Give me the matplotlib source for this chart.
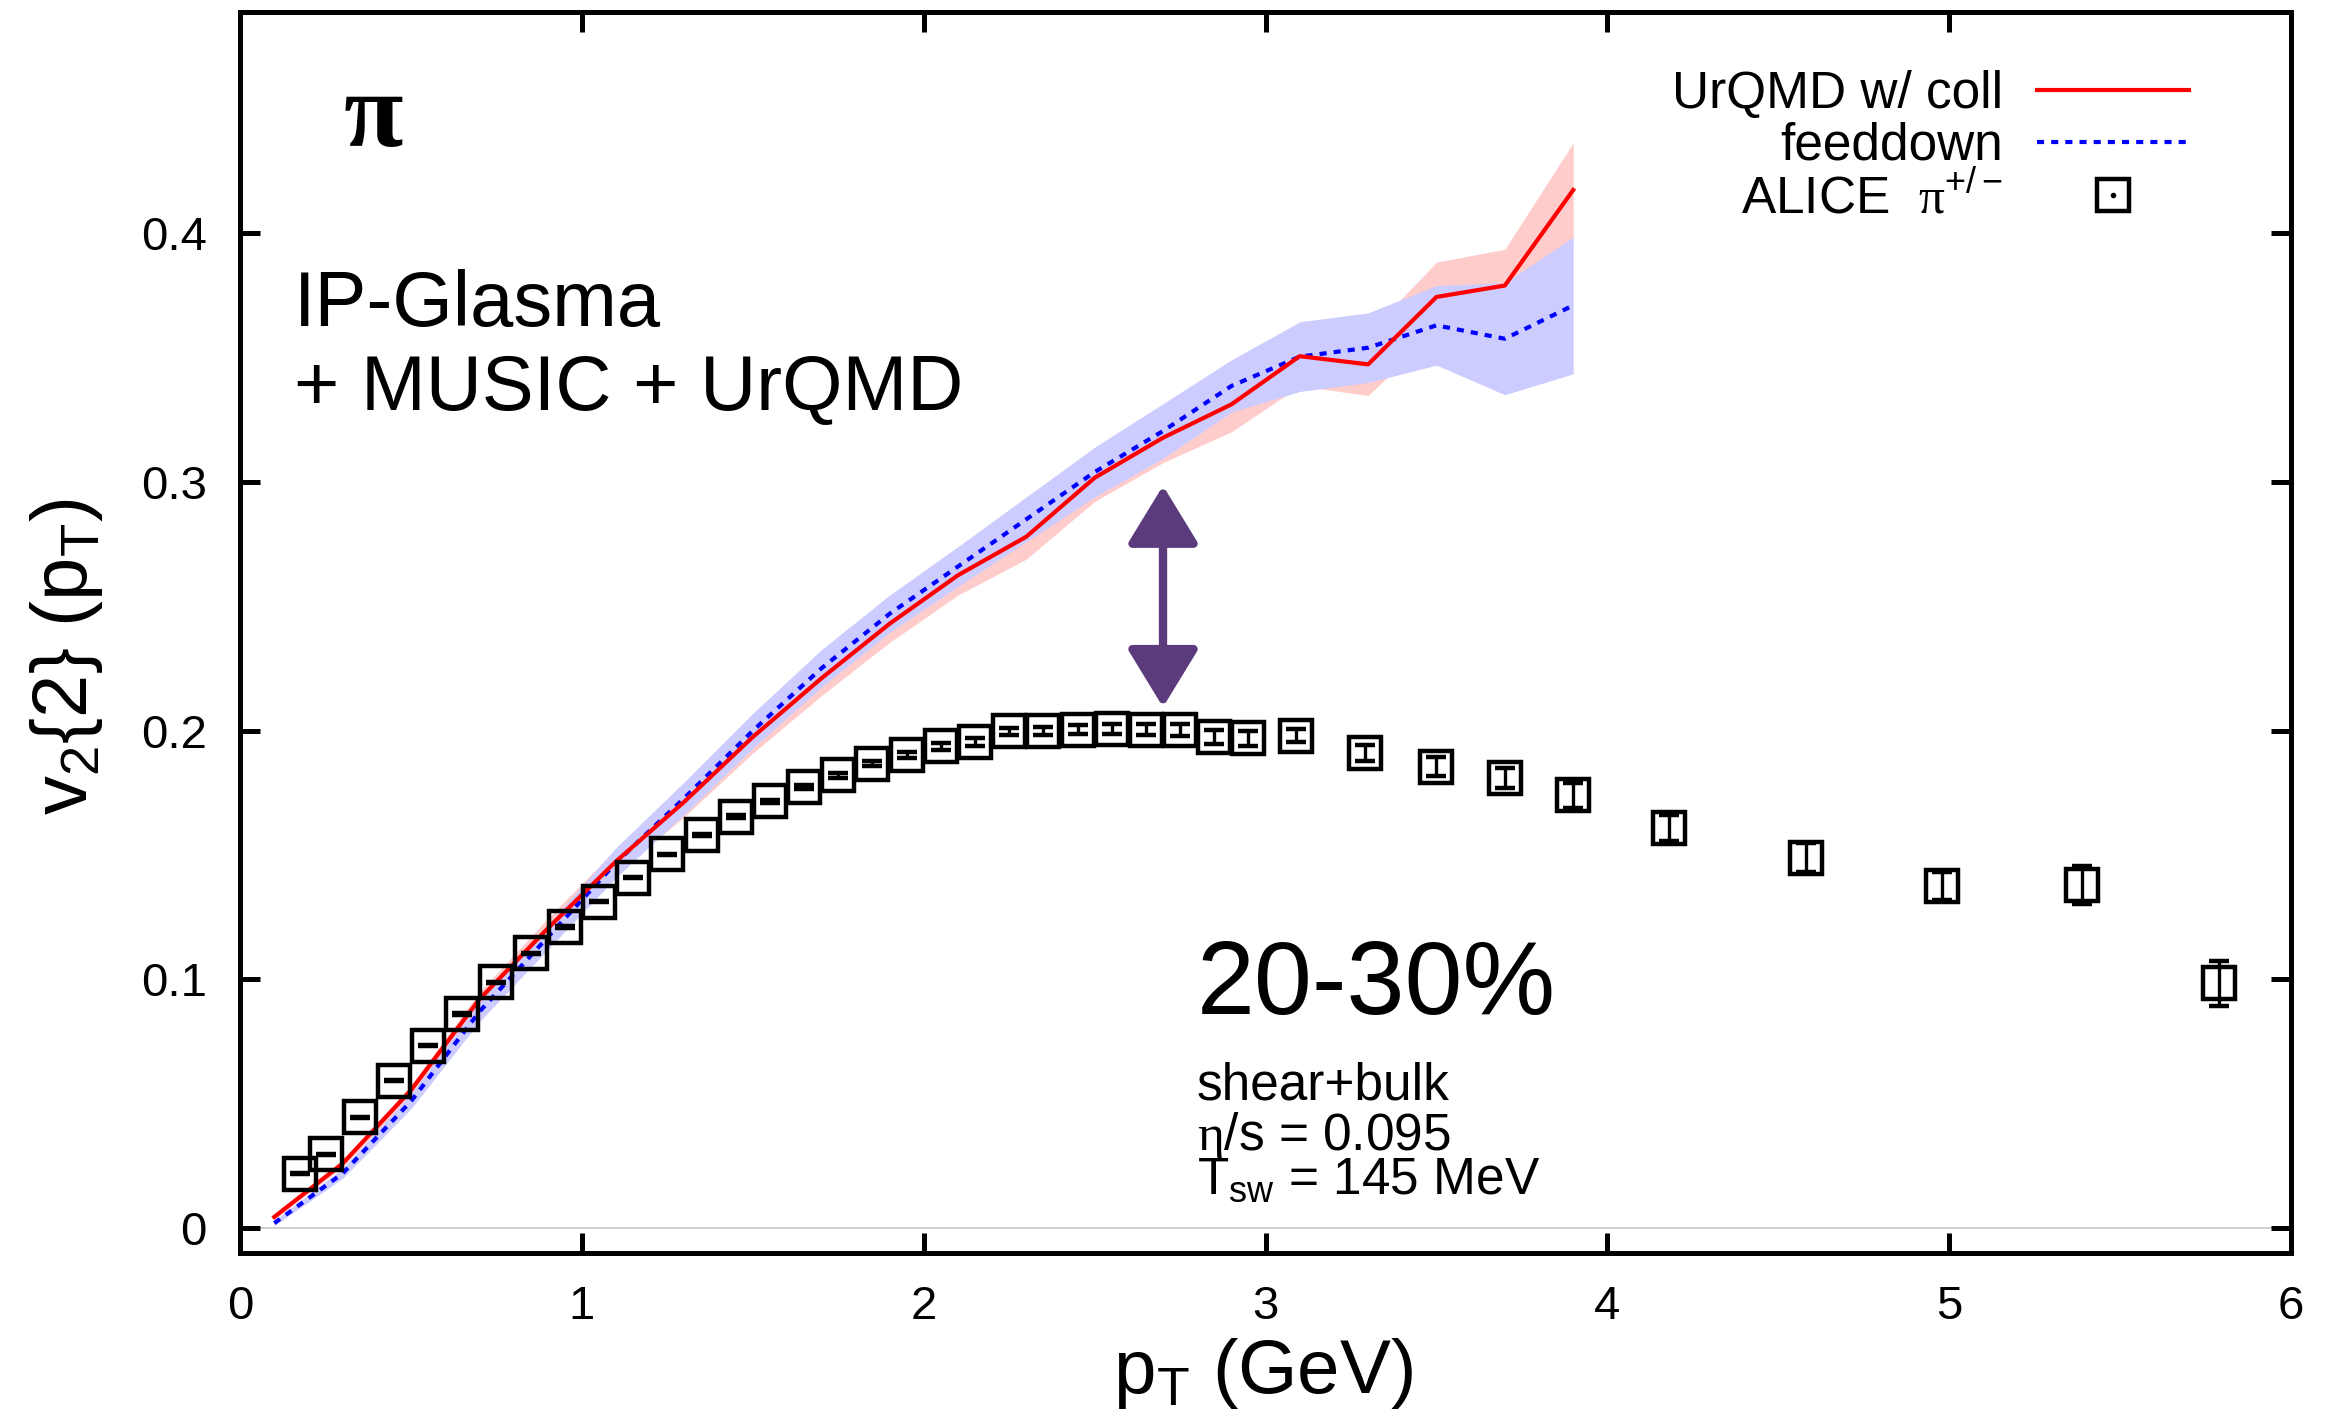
import matplotlib
matplotlib.use('Agg')
import numpy as np
import matplotlib.pyplot as plt
from matplotlib.lines import Line2D
from matplotlib.legend_handler import HandlerTuple
from matplotlib.ticker import FuncFormatter

plt.rcParams['font.family'] = ['Liberation Sans', 'DejaVu Sans']
plt.rcParams['mathtext.fontset'] = 'custom'
plt.rcParams['mathtext.rm'] = 'Liberation Sans'
plt.rcParams['mathtext.it'] = 'Liberation Sans:italic'
plt.rcParams['mathtext.cal'] = 'Liberation Serif'

# hydro + UrQMD curves, pT in GeV
pt_model = [0.1, 0.3, 0.5, 0.7, 0.9, 1.1, 1.3, 1.5, 1.7, 1.9,
            2.1, 2.3, 2.5, 2.7, 2.9, 3.1, 3.3, 3.5, 3.7, 3.9]
v2_coll = [0.0045, 0.026, 0.0555, 0.092, 0.1205, 0.1475, 0.1715, 0.1975, 0.221, 0.243,
           0.2625, 0.278, 0.3017, 0.3178, 0.3312, 0.3506, 0.3473, 0.3744, 0.379, 0.4174]
err_coll = [0.001, 0.0015, 0.002, 0.003, 0.004, 0.005, 0.006, 0.0065, 0.007, 0.0075,
            0.008, 0.009, 0.0095, 0.01, 0.011, 0.012, 0.0125, 0.014, 0.0146, 0.019]
v2_feed = [0.002, 0.022, 0.051, 0.087, 0.117, 0.147, 0.173, 0.2, 0.225, 0.247,
           0.266, 0.285, 0.304, 0.3205, 0.3386, 0.3504, 0.354, 0.363, 0.3576, 0.371]
err_feed = [0.001, 0.002, 0.003, 0.004, 0.005, 0.006, 0.0065, 0.007, 0.0075, 0.0075,
            0.008, 0.009, 0.01, 0.011, 0.0105, 0.014, 0.014, 0.016, 0.0225, 0.0275]

# ALICE pi+/- v2{2}, 20-30% centrality
pt_alice = [0.175, 0.25, 0.35, 0.45, 0.55, 0.65, 0.75, 0.85, 0.95, 1.05,
            1.15, 1.25, 1.35, 1.45, 1.55, 1.65, 1.75, 1.85, 1.95, 2.05,
            2.15, 2.25, 2.35, 2.45, 2.55, 2.65, 2.75, 2.85, 2.95, 3.09,
            3.29, 3.5, 3.7, 3.9, 4.18, 4.58, 4.98, 5.39, 5.79]
v2_alice = [0.0219, 0.0296, 0.0445, 0.0593, 0.0734, 0.0861, 0.0988, 0.1105, 0.1211, 0.1313,
            0.1409, 0.1503, 0.158, 0.1655, 0.1716, 0.1775, 0.182, 0.1867, 0.1903, 0.1937,
            0.1955, 0.1997, 0.1997, 0.2004, 0.2008, 0.2004, 0.2004, 0.1975, 0.197, 0.198,
            0.191, 0.1856, 0.181, 0.174, 0.161, 0.149, 0.1376, 0.138, 0.0985]
err_alice = [0.0003, 0.0003, 0.0003, 0.0003, 0.0003, 0.0003, 0.0003, 0.0003, 0.0003, 0.0003,
             0.0003, 0.0003, 0.0005, 0.0005, 0.0007, 0.0008, 0.001, 0.001, 0.0012, 0.0013,
             0.0015, 0.0015, 0.0016, 0.0018, 0.002, 0.0022, 0.0024, 0.0028, 0.003, 0.0025,
             0.0032, 0.0038, 0.0042, 0.005, 0.0052, 0.006, 0.0056, 0.0078, 0.009]

# gap between model and data at pT = 2.7 GeV
arrow_pt = 2.7
arrow_top = 0.2985
arrow_bottom = 0.2095

coll = np.array(v2_coll)
feed = np.array(v2_feed)

fig = plt.figure(figsize=(23.38, 14.24), dpi=100)
ax = fig.add_axes([0.1027, 0.1201, 0.8772, 0.8715])

ax.axhline(0, color='#c8c8c8', lw=1.2, zorder=0)
ax.fill_between(pt_model, coll - err_coll, coll + err_coll, color='#ffcccc', lw=0, zorder=1)
ax.fill_between(pt_model, feed - err_feed, feed + err_feed, color='#ccccff', lw=0, zorder=2)
l_feed, = ax.plot(pt_model, feed, color='blue', lw=3, ls=(0, (1.7, 1.7)), zorder=3)
l_coll, = ax.plot(pt_model, coll, color='red', lw=3, zorder=4)

ax.errorbar(pt_alice, v2_alice, yerr=err_alice, fmt='s', ms=23, mfc='none', mec='black',
            mew=3.2, ecolor='black', elinewidth=2.4, capsize=7, capthick=3, zorder=5)

ax.annotate('', xy=(arrow_pt, arrow_top), xytext=(arrow_pt, arrow_bottom),
            arrowprops=dict(arrowstyle='<|-|>,head_length=1.8,head_width=1.1',
                            mutation_scale=20, color='#5c3b7d', lw=6,
                            shrinkA=0, shrinkB=0), zorder=6)

# legend: text on the left, sample on the right
sq = Line2D([], [], marker='s', ms=23, mfc='none', mec='black', mew=3.2, ls='none')
dot = Line2D([], [], marker='.', ms=6, color='black', ls='none')
ax.legend([l_coll, l_feed, (sq, dot)],
          ['UrQMD w/ coll', 'feeddown', r'ALICE  $\mathcal{π}^{+/-}$'],
          handler_map={tuple: HandlerTuple(ndivide=1)},
          loc='upper right', bbox_to_anchor=(0.9503, 0.953), frameon=False,
          markerfirst=False, fontsize=37, handlelength=2.96, handletextpad=0.66,
          labelspacing=0.05, borderpad=0, borderaxespad=0)

ax.text(0.0648, 0.913, 'π', family='Liberation Serif', fontsize=78, fontweight='bold',
        ha='center', va='center', transform=ax.transAxes)
ax.text(0.0263, 0.747, 'IP-Glasma', fontsize=56, va='baseline', transform=ax.transAxes)
ax.text(0.0263, 0.679, '+ MUSIC + UrQMD', fontsize=56, va='baseline', transform=ax.transAxes)
ax.text(0.4666, 0.1926, '20-30%', fontsize=75, va='baseline', transform=ax.transAxes)
ax.text(0.4666, 0.124, 'shear+bulk', fontsize=37, va='baseline', transform=ax.transAxes)
ax.text(0.4666, 0.083, r'$\mathcal{η}$/s = 0.095', fontsize=37, va='baseline',
        transform=ax.transAxes)
ax.text(0.4666, 0.048, r'T$_\mathrm{sw}$ = 145 MeV', fontsize=37, va='baseline',
        transform=ax.transAxes)

ax.set_xlim(0, 6)
ax.set_ylim(-0.01, 0.489)
ax.set_xticks([0, 1, 2, 3, 4, 5, 6])
ax.set_yticks([0, 0.1, 0.2, 0.3, 0.4])
ax.yaxis.set_major_formatter(FuncFormatter(lambda v, _: f'{v:g}'))
ax.tick_params(direction='in', length=14.4, width=3.6, labelsize=34, top=True, right=True)
ax.tick_params(axis='x', pad=23)
ax.tick_params(axis='y', pad=24)
for s in ax.spines.values():
    s.set_linewidth(3.6)

ax.set_xlabel(r'p$_\mathrm{T}$ (GeV)', fontsize=55)
ax.xaxis.set_label_coords(0.499, -0.067)
ax.set_ylabel(r'v$_2${2} (p$_\mathrm{T}$)', fontsize=56)
ax.yaxis.set_label_coords(-0.066, 0.481)

fig.savefig('out.png', dpi=100)
